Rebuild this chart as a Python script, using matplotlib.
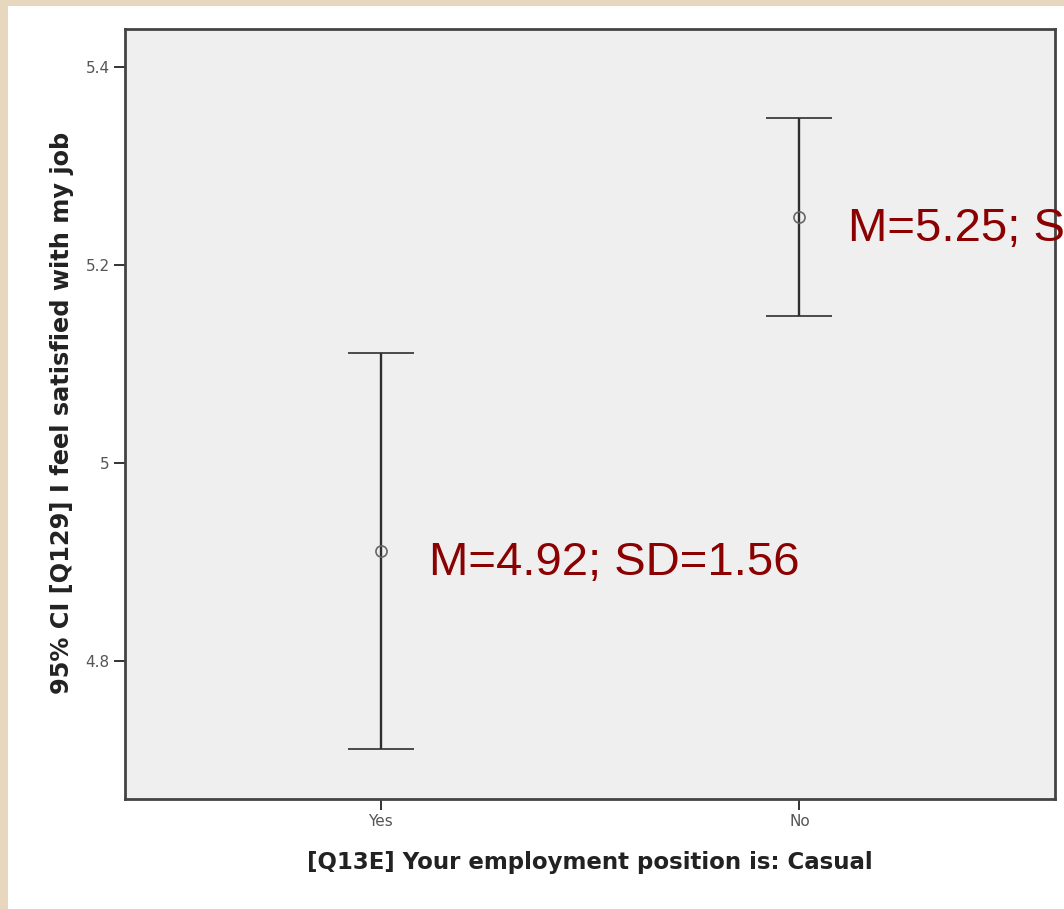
import matplotlib
matplotlib.use('Agg')
import matplotlib.pyplot as plt
from matplotlib.patches import Rectangle

# values
categories = ['Yes', 'No']
means = [4.911, 5.249]
ci_low = [4.711, 5.148]
ci_high = [5.111, 5.348]
labels = ['M=4.92; SD=1.56', 'M=5.25; S']
y_ticks = [4.8, 5.0, 5.2, 5.4]
y_tick_labels = ['4.8', '5', '5.2', '5.4']

fig = plt.figure(figsize=(10.64, 9.09), dpi=100)
fig.patch.set_facecolor('#e7d7be')
# white panel inside the beige frame
fig.patches.append(Rectangle((8 / 1064, 0), 1, 1 - 6 / 909, transform=fig.transFigure,
                             facecolor='white', edgecolor='none', zorder=-5))

ax = fig.add_axes([125 / 1064, 1 - 799 / 909, 930 / 1064, 770 / 909])
ax.set_facecolor('#efefef')

x = list(range(len(categories)))
err_low = [m - lo for m, lo in zip(means, ci_low)]
err_high = [hi - m for m, hi in zip(means, ci_high)]
ax.errorbar(x, means, yerr=[err_low, err_high], fmt='o', markersize=8,
            markerfacecolor='none', markeredgecolor='#666666', markeredgewidth=1.2,
            ecolor='#2e2e2e', elinewidth=1.7, capsize=24, capthick=2.6)

for xi, m, txt in zip(x, means, labels):
    ax.annotate(txt, (xi, m), xytext=(35, -17.5), textcoords='offset points',
                fontsize=34, color='#8b0000', family='Liberation Sans',
                va='baseline', ha='left', annotation_clip=False, clip_on=False)

ax.set_xlim(-0.61, 1.61)
ax.set_ylim(4.6606, 5.4384)
ax.set_xticks(x)
ax.set_xticklabels(categories)
ax.set_yticks(y_ticks)
ax.set_yticklabels(y_tick_labels)
ax.tick_params(axis='both', direction='out', length=8, width=1.4, color='#333333',
               labelsize=11, labelcolor='#555555', pad=3)

for sp in ax.spines.values():
    sp.set_color('#444444')
    sp.set_linewidth(2)

ax.set_xlabel('[Q13E] Your employment position is: Casual', fontsize=16.5,
              fontweight='bold', color='#222222', va='center')
ax.set_ylabel('95% CI [Q129] I feel satisfied with my job', fontsize=17.3,
              fontweight='bold', color='#222222', va='center')
ax.xaxis.set_label_coords(0.5, (799 - 862) / 770)
ax.yaxis.set_label_coords((62 - 125) / 930, (799 - 413) / 770)

fig.savefig('out.png', dpi=100)
